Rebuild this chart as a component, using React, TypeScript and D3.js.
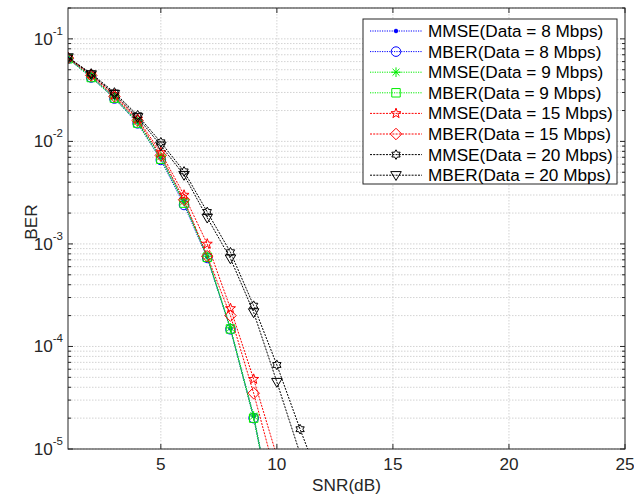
import React from "react";
import * as d3 from "d3";

const snr = [1, 2, 3, 4, 5, 6, 7, 8, 9, 10, 11, 12];

const mmse8 = [0.065, 0.043, 0.027, 0.0155, 0.0070, 0.0026, 0.00075, 0.00015, 2.1e-5, 1.6e-6];
const mber8 = [0.064, 0.042, 0.0262, 0.0150, 0.0066, 0.0024, 0.00073, 0.000147, 2.0e-5, 1.5e-6];
const mmse9 = [0.065, 0.043, 0.027, 0.0156, 0.0071, 0.0026, 0.00076, 0.000152, 2.1e-5, 1.6e-6];
const mber9 = [0.064, 0.042, 0.0264, 0.0151, 0.0067, 0.0025, 0.00074, 0.000148, 2.0e-5, 1.5e-6];
const mmse15 = [0.066, 0.045, 0.0285, 0.0166, 0.0078, 0.0030, 0.00100, 0.000235, 4.8e-5, 8.5e-6];
const mber15 = [0.065, 0.044, 0.0275, 0.0160, 0.0073, 0.0027, 0.00076, 0.000200, 3.5e-5, 5.0e-6];
const mmse20 = [0.066, 0.046, 0.0300, 0.0180, 0.0098, 0.0051, 0.00205, 0.00083, 0.00025, 6.6e-5, 1.56e-5, 4.0e-6];
const mber20 = [0.066, 0.045, 0.0290, 0.0172, 0.0091, 0.0047, 0.00180, 0.00072, 0.000215, 4.5e-5, 9.0e-6];

const seriesNames = [
  "MMSE(Data = 8 Mbps)",
  "MBER(Data = 8 Mbps)",
  "MMSE(Data = 9 Mbps)",
  "MBER(Data = 9 Mbps)",
  "MMSE(Data = 15 Mbps)",
  "MBER(Data = 15 Mbps)",
  "MMSE(Data = 20 Mbps)",
  "MBER(Data = 20 Mbps)",
];
const seriesValues = [mmse8, mber8, mmse9, mber9, mmse15, mber15, mmse20, mber20];
const seriesColors = ["#0000ff", "#0000ff", "#00ee00", "#00ee00", "#ff0000", "#ff0000", "#000000", "#000000"];
const seriesMarkers = ["point", "circle", "asterisk", "square", "pentagram", "diamond", "hexagram", "triangleDown"];
const seriesDash = ["1.2,1.2", "1.2,1.2", "1.2,1.2", "1.2,1.2", "2,1.2", "2,1.2", "2,1.2", "2,1.2"];

const xTicks = [5, 10, 15, 20, 25];
const yDecades = [-5, -4, -3, -2, -1];

const W = 634;
const H = 498;
const left = 68;
const right = 625;
const top = 8;
const bottom = 449;
const FONT = "Liberation Sans, Arial, sans-serif";
const FS = 17.2;

function starPath(n: number, R: number, r: number, rot: number) {
  const pts: string[] = [];
  for (let i = 0; i < 2 * n; i++) {
    const rad = i % 2 === 0 ? R : r;
    const a = rot + (Math.PI * i) / n;
    pts.push(`${(rad * Math.sin(a)).toFixed(2)},${(-rad * Math.cos(a)).toFixed(2)}`);
  }
  return "M" + pts.join("L") + "Z";
}

function markerPath(type: string, s: number) {
  switch (type) {
    case "circle":
      return `M${-s},0A${s},${s} 0 1,0 ${s},0A${s},${s} 0 1,0 ${-s},0Z`;
    case "point": {
      const r = 1.8;
      return `M${-r},0A${r},${r} 0 1,0 ${r},0A${r},${r} 0 1,0 ${-r},0Z`;
    }
    case "asterisk": {
      const d = s * 0.72;
      return `M${-s},0L${s},0M0,${-s}L0,${s}M${-d},${-d}L${d},${d}M${-d},${d}L${d},${-d}`;
    }
    case "square": {
      const q = s * 0.88;
      return `M${-q},${-q}L${q},${-q}L${q},${q}L${-q},${q}Z`;
    }
    case "diamond":
      return `M0,${-s * 1.2}L${s * 1.2},0L0,${s * 1.2}L${-s * 1.2},0Z`;
    case "pentagram":
      return starPath(5, s * 1.1, s * 0.45, 0);
    case "hexagram":
      return starPath(6, s * 1.0, s * 0.58, 0);
    case "triangleDown":
      return `M${-s * 1.1},${-s * 0.75}L${s * 1.1},${-s * 0.75}L0,${s * 1.1}Z`;
    default:
      return "";
  }
}

export default function App() {
  const x = d3.scaleLinear().domain([1, 25]).range([left, right]);
  const y = d3.scaleLog().domain([1e-5, 0.2]).range([bottom, top]);

  const minorY: number[] = [];
  for (const e of yDecades) {
    for (let k = 1; k <= 9; k++) {
      const v = k * Math.pow(10, e);
      if (v <= 0.2 && v >= 1e-5) minorY.push(v);
    }
  }

  const line = d3
    .line<number>()
    .x((_, i) => x(snr[i]))
    .y((d) => y(d));

  const legendX = 363;
  const legendY = 19;
  const legendW = 254;
  const legendH = 165;
  const rowH = 20.6;

  return (
    <svg
      width={W}
      height={H}
      style={{ position: "absolute", left: 0, top: 0, background: "#fff" }}
      fontFamily={FONT}
    >
      <rect x={0} y={0} width={W} height={H} fill="#fff" />
      <defs>
        <clipPath id="plotclip">
          <rect x={left} y={top} width={right - left} height={bottom - top} />
        </clipPath>
      </defs>
      {/* grid */}
      <g stroke="#c8c8c8" strokeWidth={0.8} strokeDasharray="1.5,1.5">
        {minorY.map((v, i) => (
          <line key={"gy" + i} x1={left} x2={right} y1={y(v)} y2={y(v)} />
        ))}
        {xTicks.slice(0, -1).map((t) => (
          <line key={"gx" + t} x1={x(t)} x2={x(t)} y1={top} y2={bottom} />
        ))}
      </g>
      {/* series */}
      <g clipPath="url(#plotclip)">
        {seriesValues.map((vals, si) => (
          <g key={"s" + si}>
            <path
              d={line(vals) || ""}
              fill="none"
              stroke={seriesColors[si]}
              strokeWidth={1}
              strokeDasharray={seriesDash[si]}
            />
            {vals.map((v, i) => (
              <path
                key={i}
                transform={`translate(${x(snr[i])},${y(v)})`}
                d={markerPath(seriesMarkers[si], 4.8)}
                fill={seriesMarkers[si] === "point" ? seriesColors[si] : "none"}
                stroke={seriesColors[si]}
                strokeWidth={1}
              />
            ))}
          </g>
        ))}
      </g>
      {/* axes box */}
      <rect x={left} y={top} width={right - left} height={bottom - top} fill="none" stroke="#262626" strokeWidth={1} />
      {/* ticks */}
      <g stroke="#262626" strokeWidth={1}>
        {xTicks.map((t) => (
          <g key={"xt" + t}>
            <line x1={x(t)} x2={x(t)} y1={bottom} y2={bottom - 5} />
            <line x1={x(t)} x2={x(t)} y1={top} y2={top + 5} />
          </g>
        ))}
        {minorY.map((v, i) => {
          const major = yDecades.some((e) => Math.abs(Math.pow(10, e) - v) < 1e-12);
          const len = major ? 5 : 3;
          return (
            <g key={"yt" + i}>
              <line x1={left} x2={left + len} y1={y(v)} y2={y(v)} />
              <line x1={right} x2={right - len} y1={y(v)} y2={y(v)} />
            </g>
          );
        })}
      </g>
      {/* x tick labels */}
      <g fontSize={FS} fill="#262626" textAnchor="middle">
        {xTicks.map((t) => (
          <text key={"xl" + t} x={x(t)} y={470}>
            {t}
          </text>
        ))}
      </g>
      {/* y tick labels */}
      <g fill="#262626">
        {yDecades.map((e) => (
          <text key={"yl" + e} x={63} y={y(Math.pow(10, e)) + 6} textAnchor="end" fontSize={FS}>
            <tspan>10</tspan>
            <tspan dy={-10} fontSize={11.5}>
              {String(e)}
            </tspan>
          </text>
        ))}
      </g>
      {/* axis labels */}
      <text x={(left + right) / 2} y={491} textAnchor="middle" fontSize={FS} fill="#262626">
        SNR(dB)
      </text>
      <text
        transform={`translate(37,222) rotate(-90)`}
        textAnchor="middle"
        fontSize={FS}
        fill="#262626"
      >
        BER
      </text>
      {/* legend */}
      <rect x={legendX} y={legendY} width={legendW} height={legendH} fill="#fff" stroke="#262626" strokeWidth={1} />
      {seriesNames.map((name, si) => {
        const cy = legendY + 12 + si * rowH;
        return (
          <g key={"lg" + si}>
            <line
              x1={370}
              x2={422}
              y1={cy}
              y2={cy}
              stroke={seriesColors[si]}
              strokeWidth={1}
              strokeDasharray={seriesDash[si]}
            />
            <path
              transform={`translate(396,${cy})`}
              d={markerPath(seriesMarkers[si], 4.8)}
              fill={seriesMarkers[si] === "point" ? seriesColors[si] : "none"}
              stroke={seriesColors[si]}
              strokeWidth={1}
            />
            <text x={428} y={cy + 6} fontSize={FS} fill="#000">
              {name}
            </text>
          </g>
        );
      })}
    </svg>
  );
}
